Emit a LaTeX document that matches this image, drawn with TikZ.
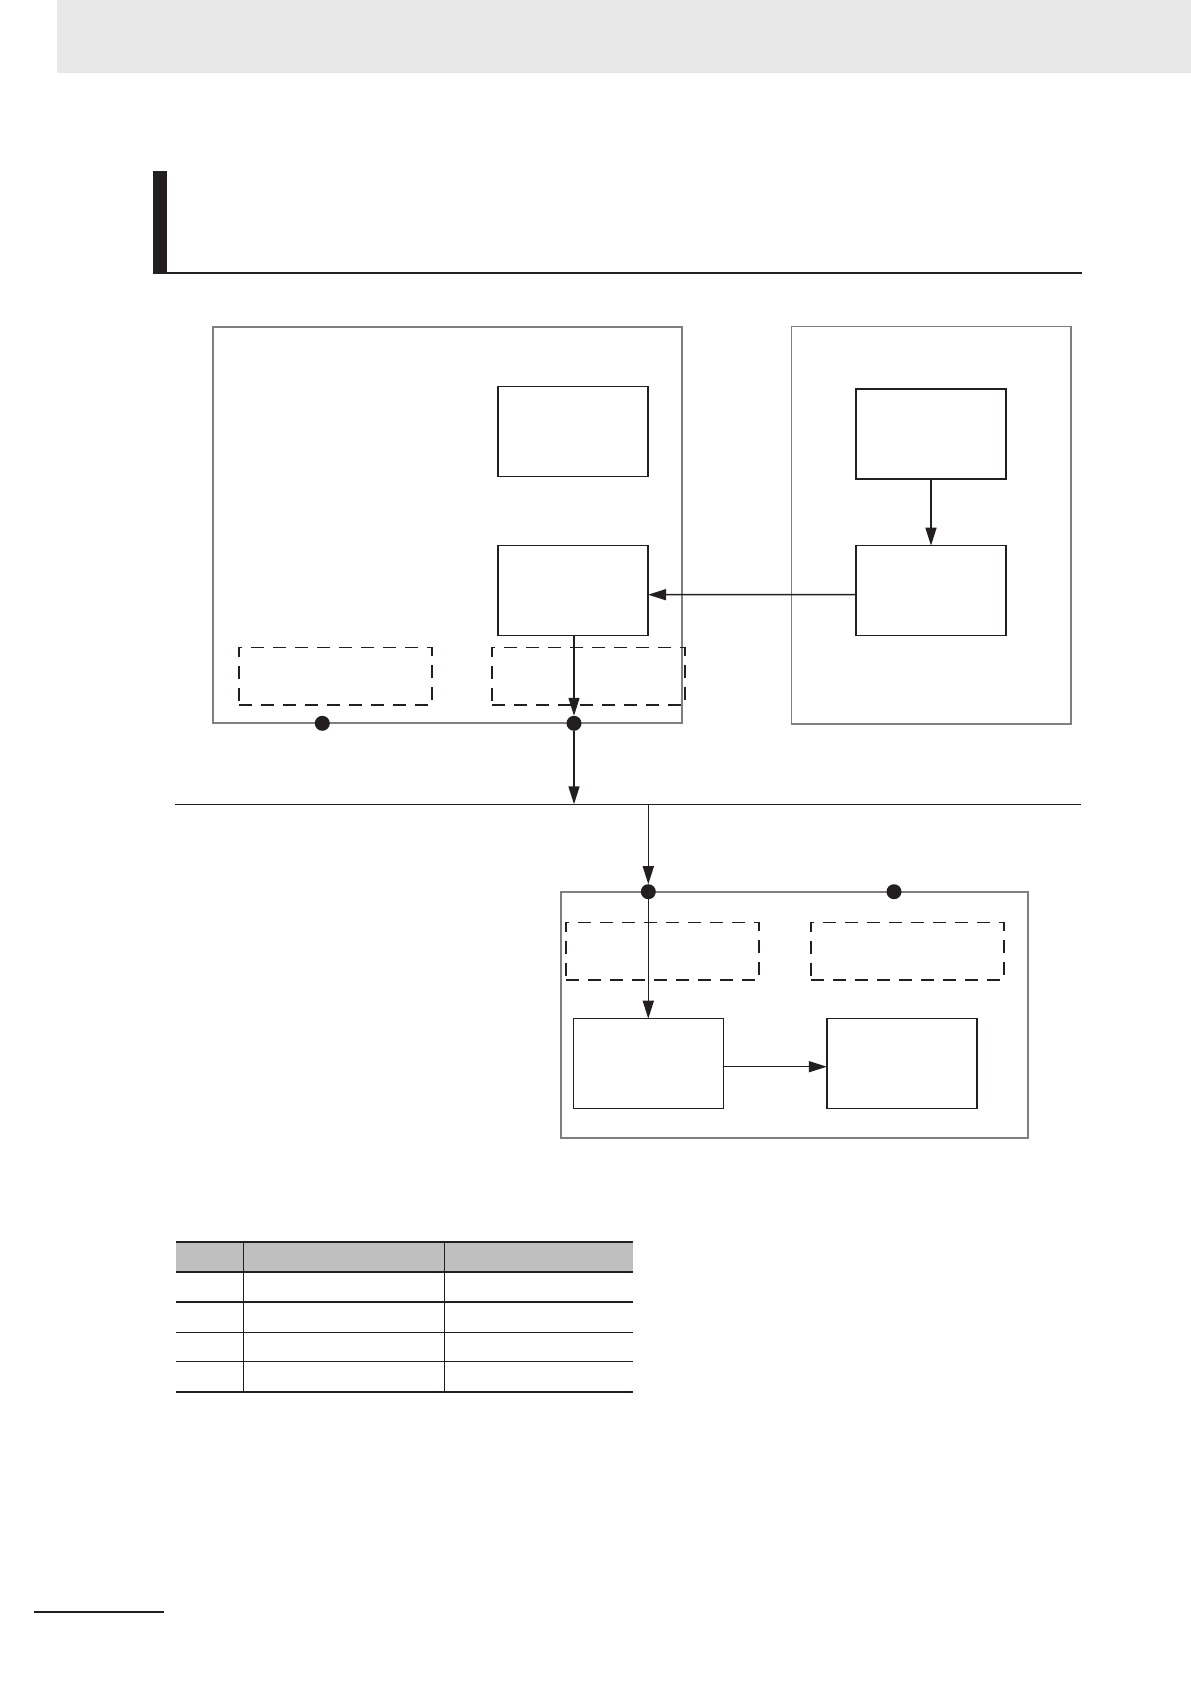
\documentclass[tikz,border=0pt]{standalone}
\usetikzlibrary{arrows.meta}
\definecolor{ink}{HTML}{231F20}
\definecolor{frame}{HTML}{7F7F7F}
\definecolor{headgray}{HTML}{E8E8E8}
\definecolor{tabgray}{HTML}{BFBFBF}
\begin{document}
\begin{tikzpicture}[x=1pt,y=-1pt,
  outerbox/.style={draw=frame,line width=1.8pt,rectangle,inner sep=0pt,outer sep=0pt},
  blockbox/.style={draw=ink,line width=1.5pt,rectangle,inner sep=0pt,outer sep=0pt,minimum width=150pt,minimum height=90pt},
  dashbox/.style={draw=ink,line width=1.5pt,rectangle,inner sep=0pt,outer sep=0pt,dash pattern=on 13pt off 9pt,minimum width=193pt,minimum height=57.3pt},
  port/.style={circle,fill=ink,inner sep=0pt,outer sep=0pt,minimum size=15pt},
  arr/.style={draw=ink,line width=1.5pt,-{Triangle[length=18pt,width=11pt]}},
  thickrule/.style={draw=ink,line width=2.2pt},
  thinrule/.style={draw=ink,line width=1.2pt}]
\useasboundingbox (0,0) rectangle (1191,1684);
% header band
\fill[headgray] (57,0) rectangle (1191,73);
\fill[ink] (153,171) rectangle (167,274);
\draw[thickrule] (166,272.8) -- (1082,272.8);
% outer frames
\node[outerbox,minimum width=468.7pt,minimum height=396.6pt] (A) at (447.65,525) {};
\node[outerbox,minimum width=279.2pt,minimum height=397.3pt] (B) at (931.1,525.15) {};
\node[outerbox,minimum width=467.6pt,minimum height=246.6pt] (C) at (794.5,1015) {};
% inner blocks
\node[blockbox] (a1) at (573,431.7) {};
\node[blockbox] (a2) at (573,590.7) {};
\node[blockbox] (b1) at (931,433.9) {};
\node[blockbox] (b2) at (931,590.6) {};
\node[blockbox] (c1) at (648.5,1063.7) {};
\node[blockbox] (c2) at (901.85,1063.7) {};
% dashed boxes
\node[dashbox] (dl) at (335.65,676.35) {};
\node[dashbox] (dr) at (588.5,676.35) {};
\node[dashbox] (cl) at (662.5,951.15) {};
\node[dashbox] (cr) at (907.35,951.15) {};
% ports
\node[port] (pA1) at (322.3,723.3) {};
\node[port] (pA2) at (574,723.3) {};
\node[port] (pC1) at (648.3,891.7) {};
\node[port] (pC2) at (894,891.7) {};
% bus
\coordinate (busL) at (175,804.3);
\coordinate (busR) at (1081,804.3);
\coordinate (busA) at (574,804.3);
\coordinate (busC) at (648.3,804.3);
\draw[draw=ink,line width=1.6pt] (busL) -- (busR);
% connectors
\draw[arr] (b1.south) -- (b2.north);
\draw[arr] ([yshift=-4pt]b2.west) -- ([yshift=-4pt]a2.east);
\draw[arr] (a2.south -| pA2) -- (pA2.north);
\draw[arr] (pA2.south) -- (busA);
\draw[arr] (busC) -- (pC1.north);
\draw[arr] (pC1.south) -- (c1.north -| pC1);
\draw[arr] ([yshift=-3pt]c1.east) -- ([yshift=-3pt]c2.west);
% table
\fill[tabgray] (176,1242) rectangle (633.3,1272.3);
\draw[thickrule] (176,1242) -- (633.3,1242);
\draw[thickrule] (176,1272.3) -- (633.3,1272.3);
\draw[thinrule] (176,1302) -- (633.3,1302);
\draw[thinrule] (176,1332.3) -- (633.3,1332.3);
\draw[thinrule] (176,1361.3) -- (633.3,1361.3);
\draw[thickrule] (176,1392) -- (633.3,1392);
\draw[thinrule] (243.3,1242) -- (243.3,1392);
\draw[thinrule] (444.7,1242) -- (444.7,1392);
% footer rule
\draw[draw=ink,line width=2.5pt] (34,1612) -- (164.3,1612);
\end{tikzpicture}
\end{document}
